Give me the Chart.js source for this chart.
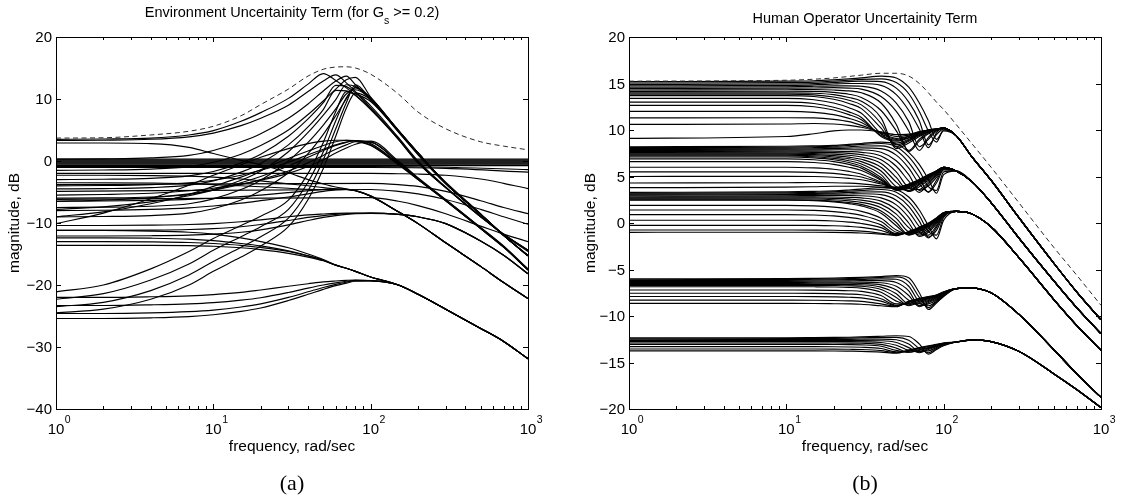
<!DOCTYPE html>
<html><head><meta charset="utf-8">
<script src="https://cdn.jsdelivr.net/npm/chart.js"></script>
<style>
html,body{margin:0;padding:0;background:#fff;}
#wrap{position:relative;width:1126px;height:504px;overflow:hidden;background:#fff;}
#wrap canvas{position:absolute;left:0;top:0;}
</style></head><body>
<div id="wrap"><canvas id="ca" width="1126" height="504"></canvas><canvas id="cb" width="1126" height="504"></canvas></div>
<script>
// ---------- shared tick data ----------
const X_TICKS = [1, 10, 100, 1000];
const X_EXP = ['0', '1', '2', '3'];
const Y_TICKS_A = [20, 10, 0, -10, -20, -30, -40];
const Y_TICKS_B = [20, 15, 10, 5, 0, -5, -10, -15, -20];

// ---------- panel (a): Environment uncertainty ----------
const FA = [1, 2, 4, 7, 10, 15, 20, 30, 40, 50, 60, 70, 80, 100, 150, 200, 300, 500, 700, 1000];
const A_ENVELOPE = [3.7, 3.75, 4.2, 4.8, 5.6, 7.3, 9.1, 11.6, 13.7, 14.8, 15.15, 15.2, 15.0, 14.0, 10.8, 7.9, 5.2, 3.1, 2.4, 1.8];
const A_PEAK_HIGH = [
 [3.5, 3.55, 3.7, 4.2, 4.9, 6.4, 7.8, 10.1, 12.4, 14.1, 13.0, 11.8, 10.6, 8.3, 3.5, -0.3, -4.3, -9.0, -11.8, -14.4],
 [3.3, 3.35, 3.5, 3.9, 4.5, 5.7, 6.9, 9.0, 11.2, 12.9, 13.9, 12.6, 11.2, 8.9, 3.8, 0.0, -4.2, -8.9, -11.9, -14.6]
];
const A_PEAK_MID = [
 [0.3, 0.35, 0.5, 0.9, 1.7, 3.1, 4.4, 6.9, 9.2, 11.3, 12.9, 13.7, 12.3, 10.0, 4.7, 1.1, -3.4, -8.5, -12.0, -15.2],
 [-1.5, -1.45, -1.3, -0.9, -0.2, 1.1, 2.5, 5.0, 7.5, 9.7, 11.6, 13.1, 13.5, 10.3, 5.0, 1.3, -3.6, -8.6, -12.0, -15.3],
 [-3.0, -2.95, -2.8, -2.4, -1.7, -0.3, 1.1, 4.0, 6.8, 9.4, 12.2, 12.0, 11.0, 8.6, 3.6, -0.2, -4.3, -9.0, -11.8, -14.4],
 [-4.5, -4.45, -4.3, -3.9, -3.2, -1.8, -0.4, 2.6, 5.5, 8.3, 11.4, 11.3, 10.6, 8.4, 3.5, -0.3, -4.3, -9.0, -11.8, -14.4],
 [-6.0, -5.95, -5.8, -5.4, -4.6, -3.1, -1.6, 1.5, 4.6, 7.4, 9.9, 12.3, 12.0, 10.0, 4.9, 1.3, -3.6, -8.6, -12.0, -15.3],
 [-7.5, -7.45, -7.3, -6.9, -6.1, -4.6, -3.1, 0.0, 3.0, 5.8, 8.4, 10.8, 11.5, 10.1, 4.9, 1.3, -3.6, -8.6, -12.0, -15.3],
 [-9.0, -8.95, -8.8, -8.4, -7.7, -6.3, -4.8, -1.9, 1.2, 4.3, 7.3, 10.0, 11.9, 10.2, 4.9, 1.3, -3.6, -8.6, -12.0, -15.3]
];
const A_PEAK_LOW = [
 [-21.1, -20.0, -17.4, -14.6, -12.5, -10.4, -8.9, -6.3, -2.0, 3.0, 8.0, 11.2, 10.8, 9.6, 4.7, 1.0, -3.7, -8.6, -12.0, -15.3],
 [-22.3, -21.4, -19.2, -16.6, -14.4, -12.2, -10.6, -7.8, -3.4, 1.5, 6.5, 10.2, 11.8, 9.8, 4.8, 1.2, -3.6, -8.6, -12.0, -15.3],
 [-23.5, -22.8, -20.9, -18.4, -16.2, -13.9, -12.2, -9.2, -4.8, 0.2, 5.2, 9.4, 12.3, 10.0, 4.9, 1.3, -3.6, -8.6, -12.0, -15.3],
 [-24.5, -23.9, -22.3, -20.0, -17.8, -15.5, -13.7, -10.6, -6.2, -1.2, 4.0, 8.5, 11.0, 9.9, 4.9, 1.3, -3.6, -8.6, -12.0, -15.3]
];
const A_HUMP_3DB = [
 [-10.1, -8.4, -6.1, -3.9, -2.3, -0.6, 0.6, 2.0, 2.8, 3.2, 3.35, 3.35, 3.2, 2.5, -0.6, -3.0, -6.4, -10.9, -13.9, -17.6],
 [-9.0, -8.2, -6.9, -5.4, -4.1, -2.6, -1.4, 0.4, 1.6, 2.5, 3.1, 3.35, 3.3, 2.6, -0.5, -3.0, -6.4, -10.9, -13.9, -17.6],
 [-7.8, -7.4, -6.6, -5.6, -4.7, -3.5, -2.5, -0.8, 0.6, 1.7, 2.5, 3.0, 3.3, 2.8, -0.4, -2.9, -6.4, -10.9, -13.9, -17.6],
 [-6.5, -6.3, -5.9, -5.3, -4.7, -3.8, -3.0, -1.6, -0.3, 0.9, 1.9, 2.6, 3.1, 3.0, -0.2, -2.8, -6.3, -10.8, -13.8, -17.5],
 [-5.5, -5.4, -5.2, -4.8, -4.4, -3.7, -3.1, -2.0, -0.9, 0.2, 1.3, 2.1, 2.7, 3.2, 0.0, -2.7, -6.2, -10.7, -13.7, -17.4],
 [-4.0, -3.95, -3.8, -3.5, -3.1, -2.3, -1.5, -0.2, 1.0, 1.9, 2.6, 3.05, 3.25, 3.1, -0.3, -2.85, -6.3, -10.8, -13.8, -17.5]
];
const A_HUMP_M4 = [
 [2.9, 2.9, 2.8, 2.2, 1.2, 0.1, -0.6, -1.9, -3.0, -3.7, -4.2, -4.5, -4.8, -5.7, -8.2, -10.1, -13.2, -17.0, -19.6, -22.2],
 [-2.3, -2.3, -2.35, -2.45, -2.6, -2.9, -3.2, -3.7, -4.0, -4.3, -4.5, -4.6, -4.8, -5.7, -8.2, -10.1, -13.2, -17.0, -19.6, -22.2],
 [-3.5, -3.5, -3.55, -3.65, -3.8, -4.0, -4.15, -4.4, -4.55, -4.6, -4.6, -4.6, -4.8, -5.7, -8.2, -10.1, -13.2, -17.0, -19.6, -22.2],
 [-6.5, -6.45, -6.35, -6.2, -6.0, -5.75, -5.5, -5.1, -4.8, -4.6, -4.5, -4.55, -4.75, -5.6, -8.2, -10.1, -13.2, -17.0, -19.6, -22.2],
 [-8.0, -7.95, -7.8, -7.55, -7.25, -6.8, -6.4, -5.8, -5.3, -4.9, -4.65, -4.6, -4.75, -5.6, -8.2, -10.1, -13.2, -17.0, -19.6, -22.2]
];
const A_HUMP_M8 = [
 [-10.4, -10.4, -10.35, -10.25, -10.1, -9.8, -9.5, -9.0, -8.7, -8.55, -8.45, -8.4, -8.4, -8.4, -8.6, -9.0, -10.1, -12.9, -15.2, -18.2],
 [-11.2, -11.2, -11.15, -11.05, -10.9, -10.6, -10.25, -9.6, -9.1, -8.8, -8.6, -8.5, -8.45, -8.4, -8.6, -9.0, -10.1, -12.9, -15.2, -18.2],
 [-12.1, -12.1, -12.05, -11.95, -11.8, -11.5, -11.1, -10.3, -9.6, -9.1, -8.8, -8.6, -8.5, -8.45, -8.6, -9.0, -10.1, -12.9, -15.2, -18.2]
];
const A_FALLING = [
 [-11.2, -11.2, -11.3, -11.5, -11.8, -12.4, -13.0, -14.0, -15.0, -15.9, -16.8, -17.3, -17.8, -18.7, -20.0, -21.5, -23.9, -27.0, -29.1, -31.9],
 [-12.4, -12.4, -12.45, -12.6, -12.85, -13.3, -13.7, -14.5, -15.3, -16.0, -16.8, -17.3, -17.8, -18.7, -20.0, -21.5, -23.9, -27.0, -29.1, -31.9],
 [-13.0, -13.0, -13.05, -13.15, -13.3, -13.6, -13.95, -14.6, -15.3, -16.0, -16.8, -17.3, -17.8, -18.7, -20.0, -21.5, -23.9, -27.0, -29.1, -31.9],
 [-13.6, -13.6, -13.6, -13.65, -13.75, -14.0, -14.3, -14.9, -15.5, -16.1, -16.8, -17.3, -17.8, -18.7, -20.0, -21.5, -23.9, -27.0, -29.1, -31.9]
];
const A_BOTTOM = [
 [-22.0, -22.0, -21.9, -21.75, -21.55, -21.2, -20.8, -20.2, -19.8, -19.5, -19.35, -19.25, -19.2, -19.3, -20.0, -21.5, -23.9, -27.0, -29.1, -31.9],
 [-23.3, -23.3, -23.2, -23.05, -22.85, -22.45, -22.05, -21.2, -20.5, -20.0, -19.65, -19.4, -19.25, -19.3, -20.0, -21.5, -23.9, -27.0, -29.1, -31.9],
 [-24.6, -24.6, -24.5, -24.3, -24.05, -23.55, -23.05, -22.0, -21.1, -20.4, -19.9, -19.55, -19.3, -19.3, -20.0, -21.5, -23.9, -27.0, -29.1, -31.9],
 [-25.4, -25.4, -25.3, -25.1, -24.8, -24.25, -23.7, -22.5, -21.5, -20.7, -20.1, -19.7, -19.4, -19.35, -20.0, -21.5, -23.9, -27.0, -29.1, -31.9]
];
const FA_FLAT = [1, 100, 150, 200, 300, 500, 700, 1000];
const A_FLAT = [
 [-2.0, -2.0, -2.05, -2.1, -2.3, -2.9, -3.6, -4.45],
 [-3.8, -3.6, -3.8, -4.1, -4.9, -6.4, -7.5, -8.5],
 [-4.9, -4.6, -4.9, -5.3, -6.2, -7.8, -9.0, -10.2],
 [-6.2, -5.9, -6.5, -7.2, -8.5, -10.5, -11.8, -13.0]
];
const FA_ZERO = [1, 100, 300, 1000];
const A_ZERO = [
 [0.3, 0.3, 0.3, 0.3],
 [0.15, 0.15, 0.15, 0.15],
 [0.0, 0.0, 0.0, 0.0],
 [-0.15, -0.15, -0.15, -0.15],
 [-0.3, -0.3, -0.3, -0.3],
 [-0.45, -0.45, -0.45, -0.45],
 [-0.6, -0.6, -0.6, -0.6],
 [-0.75, -0.75, -0.75, -0.75],
 [-0.9, -0.9, -1.0, -1.4],
 [-1.05, -1.05, -1.2, -1.8]
];

// ---------- panel (b): Human operator uncertainty ----------
const FB_HEAD = [1, 10, 15, 20, 25, 30, 40, 50, 60, 70, 80, 90, 100, 120];
const FB_TAIL = [150, 200, 300, 500, 700, 1000];
const FB_ENV = [1, 10, 20, 30, 40, 50, 60, 70, 80, 90, 100, 120, 150, 200, 300, 500, 700, 1000];
const B_ENVELOPE = [15.25, 15.35, 15.6, 15.9, 16.1, 16.1, 15.8, 15.0, 14.0, 13.0, 12.2, 10.6, 8.6, 6.0, 2.2, -2.6, -5.6, -8.85];

const B_G1_TAIL = [7.2, 4.6, 0.6, -4.3, -7.4, -10.4];
const B_G1 = [
 [15.2, 15.25, 15.3, 15.4, 15.5, 15.6, 15.8, 15.6, 14.6, 12.9, 11.0, 9.0, 9.9, 9.4],
 [15.05, 15.1, 15.15, 15.25, 15.35, 15.45, 15.5, 15.1, 13.9, 12.0, 9.9, 8.7, 10.0, 9.4],
 [14.9, 14.95, 15.0, 15.1, 15.2, 15.25, 15.2, 14.5, 13.0, 11.0, 8.4, 9.5, 10.1, 9.4],
 [14.75, 14.8, 14.85, 14.95, 15.0, 15.0, 14.8, 13.8, 12.1, 10.1, 8.1, 9.7, 10.2, 9.4],
 [14.6, 14.65, 14.7, 14.75, 14.75, 14.7, 14.2, 12.9, 10.9, 8.2, 9.0, 9.9, 10.2, 9.4],
 [14.45, 14.5, 14.52, 14.55, 14.5, 14.4, 13.6, 12.0, 9.9, 7.8, 9.2, 10.0, 10.2, 9.4],
 [14.3, 14.33, 14.35, 14.3, 14.2, 14.0, 12.9, 10.6, 7.7, 8.8, 9.6, 10.0, 10.2, 9.4],
 [14.15, 14.17, 14.15, 14.05, 13.85, 13.5, 12.1, 9.9, 7.8, 9.0, 9.7, 10.05, 10.2, 9.4],
 [14.0, 14.0, 13.95, 13.8, 13.5, 13.1, 11.3, 8.0, 8.6, 9.3, 9.8, 10.1, 10.2, 9.4],
 [13.85, 13.85, 13.78, 13.55, 13.2, 12.7, 10.7, 8.2, 8.8, 9.4, 9.85, 10.1, 10.2, 9.4],
 [13.7, 13.7, 13.6, 13.3, 12.85, 12.3, 10.2, 8.4, 8.9, 9.5, 9.9, 10.1, 10.2, 9.4],
 [13.4, 13.4, 13.25, 12.9, 12.4, 11.8, 9.6, 8.6, 9.0, 9.55, 9.9, 10.1, 10.2, 9.4],
 [13.0, 13.0, 12.85, 12.45, 11.95, 11.35, 9.3, 8.8, 9.15, 9.6, 9.95, 10.1, 10.2, 9.4],
 [12.65, 12.65, 12.5, 12.15, 11.65, 11.1, 9.4, 8.9, 9.2, 9.65, 9.95, 10.1, 10.2, 9.4],
 [12.0, 12.0, 11.9, 11.65, 11.25, 10.8, 9.6, 9.0, 9.3, 9.7, 10.0, 10.1, 10.2, 9.4],
 [11.3, 11.32, 11.3, 11.15, 10.9, 10.5, 9.7, 9.1, 9.35, 9.75, 10.0, 10.1, 10.2, 9.4],
 [10.6, 10.65, 10.7, 10.65, 10.5, 10.3, 9.75, 9.3, 9.45, 9.8, 10.0, 10.1, 10.2, 9.4],
 [9.1, 9.3, 9.6, 9.9, 10.0, 10.0, 9.8, 9.5, 9.55, 9.8, 10.0, 10.1, 10.2, 9.4]
];
const B_G2_TAIL = [4.5, 2.2, -1.6, -6.2, -9.1, -11.9];
const B_G2 = [
 [8.2, 8.25, 8.3, 8.35, 8.45, 8.55, 8.7, 8.5, 7.6, 6.3, 4.7, 3.2, 5.2, 5.6],
 [8.1, 8.15, 8.2, 8.25, 8.35, 8.45, 8.55, 8.2, 7.1, 5.6, 3.9, 3.5, 5.5, 5.6],
 [8.0, 8.05, 8.1, 8.15, 8.2, 8.28, 8.3, 7.8, 6.5, 4.9, 3.3, 4.3, 5.7, 5.6],
 [7.9, 7.95, 7.98, 8.02, 8.05, 8.08, 8.0, 7.3, 5.9, 4.2, 3.35, 4.6, 5.8, 5.6],
 [7.8, 7.84, 7.86, 7.88, 7.88, 7.86, 7.6, 6.7, 5.2, 3.5, 4.0, 4.9, 5.85, 5.6],
 [7.7, 7.72, 7.73, 7.72, 7.68, 7.6, 7.2, 6.1, 4.5, 3.3, 4.2, 5.1, 5.9, 5.6],
 [7.6, 7.61, 7.6, 7.56, 7.48, 7.35, 6.8, 5.5, 3.8, 3.6, 4.4, 5.2, 5.9, 5.6],
 [7.5, 7.5, 7.47, 7.4, 7.28, 7.1, 6.4, 4.9, 3.4, 3.9, 4.6, 5.3, 5.95, 5.6],
 [7.4, 7.4, 7.35, 7.25, 7.08, 6.85, 6.0, 4.4, 3.4, 4.1, 4.75, 5.4, 5.95, 5.6],
 [7.3, 7.3, 7.23, 7.1, 6.9, 6.6, 5.6, 3.9, 3.5, 4.2, 4.85, 5.45, 5.95, 5.6],
 [7.2, 7.2, 7.12, 6.95, 6.7, 6.35, 5.2, 3.6, 3.7, 4.3, 4.9, 5.5, 6.0, 5.6],
 [7.1, 7.1, 7.0, 6.8, 6.5, 6.1, 4.9, 3.5, 3.8, 4.4, 5.0, 5.5, 6.0, 5.6],
 [6.9, 6.9, 6.8, 6.6, 6.3, 5.9, 4.7, 3.55, 3.9, 4.45, 5.0, 5.55, 6.0, 5.6],
 [6.6, 6.6, 6.5, 6.3, 6.0, 5.65, 4.6, 3.6, 3.95, 4.5, 5.05, 5.55, 6.0, 5.6],
 [6.0, 6.0, 5.92, 5.78, 5.55, 5.25, 4.4, 3.7, 4.0, 4.55, 5.1, 5.6, 6.0, 5.6],
 [5.5, 5.5, 5.45, 5.33, 5.15, 4.95, 4.3, 3.75, 4.05, 4.6, 5.1, 5.6, 6.0, 5.6],
 [5.0, 5.02, 5.0, 4.92, 4.8, 4.65, 4.2, 3.8, 4.1, 4.6, 5.15, 5.6, 6.0, 5.6],
 [4.3, 4.33, 4.35, 4.33, 4.28, 4.2, 4.0, 3.85, 4.15, 4.65, 5.15, 5.6, 6.0, 5.6],
 [3.8, 3.85, 3.9, 3.95, 3.95, 3.95, 3.85, 3.8, 4.2, 4.7, 5.2, 5.6, 6.0, 5.6]
];
const B_G3_TAIL = [1.0, -0.4, -3.7, -8.2, -11.0, -13.7];
const B_G3 = [
 [3.3, 3.35, 3.4, 3.45, 3.55, 3.65, 3.8, 3.6, 2.8, 1.4, -0.3, -1.7, 0.3, 1.25],
 [3.2, 3.25, 3.3, 3.35, 3.42, 3.5, 3.6, 3.3, 2.3, 0.8, -0.9, -1.3, 0.6, 1.25],
 [3.1, 3.15, 3.18, 3.22, 3.28, 3.33, 3.35, 2.9, 1.8, 0.2, -1.5, -0.8, 0.75, 1.25],
 [3.0, 3.05, 3.07, 3.1, 3.12, 3.14, 3.05, 2.45, 1.2, -0.4, -1.6, -0.5, 0.85, 1.25],
 [2.9, 2.93, 2.95, 2.96, 2.96, 2.93, 2.7, 1.95, 0.6, -1.0, -1.3, -0.3, 0.9, 1.25],
 [2.8, 2.82, 2.82, 2.8, 2.76, 2.7, 2.35, 1.45, 0.0, -1.45, -1.0, -0.1, 0.95, 1.25],
 [2.7, 2.71, 2.7, 2.65, 2.57, 2.46, 2.0, 0.95, -0.5, -1.3, -0.8, 0.05, 1.0, 1.25],
 [2.6, 2.6, 2.58, 2.5, 2.38, 2.22, 1.65, 0.5, -0.95, -1.1, -0.6, 0.15, 1.0, 1.25],
 [2.5, 2.5, 2.46, 2.36, 2.2, 2.0, 1.3, 0.05, -1.25, -0.95, -0.45, 0.25, 1.05, 1.25],
 [2.45, 2.45, 2.4, 2.27, 2.08, 1.84, 1.05, -0.3, -1.3, -0.85, -0.35, 0.3, 1.05, 1.25],
 [1.9, 1.9, 1.84, 1.7, 1.5, 1.25, 0.5, -0.75, -1.2, -0.75, -0.3, 0.35, 1.05, 1.25],
 [1.4, 1.4, 1.35, 1.23, 1.05, 0.82, 0.15, -1.0, -1.15, -0.7, -0.25, 0.4, 1.1, 1.25],
 [0.9, 0.9, 0.86, 0.76, 0.6, 0.4, -0.2, -1.15, -1.1, -0.65, -0.2, 0.45, 1.1, 1.25],
 [0.3, 0.3, 0.28, 0.21, 0.1, -0.05, -0.5, -1.2, -1.05, -0.6, -0.15, 0.5, 1.1, 1.25],
 [-0.25, -0.25, -0.26, -0.3, -0.37, -0.47, -0.8, -1.25, -1.0, -0.55, -0.1, 0.5, 1.1, 1.25],
 [-0.75, -0.75, -0.76, -0.78, -0.82, -0.88, -1.1, -1.3, -0.95, -0.5, -0.05, 0.55, 1.1, 1.25],
 [-1.0, -0.99, -0.99, -1.0, -1.03, -1.07, -1.2, -1.35, -0.9, -0.45, 0.0, 0.55, 1.1, 1.25]
];
const B_G4_TAIL = [-7.0, -7.5, -9.8, -13.6, -16.2, -18.75];
const B_G4 = [
 [-6.0, -5.98, -5.95, -5.92, -5.88, -5.84, -5.75, -5.65, -5.9, -7.5, -9.3, -8.6, -7.9, -7.05],
 [-6.1, -6.08, -6.05, -6.02, -5.98, -5.94, -5.85, -5.8, -6.3, -8.0, -9.1, -8.5, -7.85, -7.05],
 [-6.2, -6.18, -6.15, -6.12, -6.09, -6.06, -6.0, -6.05, -6.8, -8.5, -8.9, -8.4, -7.8, -7.05],
 [-6.3, -6.28, -6.26, -6.24, -6.22, -6.2, -6.2, -6.4, -7.3, -8.9, -8.7, -8.3, -7.75, -7.05],
 [-6.4, -6.39, -6.37, -6.36, -6.35, -6.35, -6.42, -6.8, -7.8, -9.0, -8.55, -8.2, -7.7, -7.05],
 [-6.5, -6.49, -6.48, -6.48, -6.48, -6.5, -6.65, -7.2, -8.3, -8.85, -8.45, -8.1, -7.65, -7.05],
 [-6.6, -6.6, -6.6, -6.6, -6.62, -6.65, -6.9, -7.6, -8.7, -8.65, -8.35, -8.0, -7.6, -7.05],
 [-6.7, -6.7, -6.7, -6.72, -6.75, -6.8, -7.15, -8.0, -8.9, -8.5, -8.25, -7.95, -7.55, -7.05],
 [-6.85, -6.85, -6.86, -6.88, -6.92, -7.0, -7.45, -8.4, -8.8, -8.4, -8.15, -7.9, -7.5, -7.05],
 [-7.2, -7.2, -7.21, -7.24, -7.28, -7.35, -7.8, -8.7, -8.65, -8.3, -8.1, -7.85, -7.5, -7.05],
 [-7.55, -7.55, -7.56, -7.59, -7.64, -7.72, -8.15, -8.85, -8.55, -8.25, -8.05, -7.8, -7.45, -7.05],
 [-7.9, -7.9, -7.91, -7.94, -7.98, -8.05, -8.4, -8.9, -8.5, -8.2, -8.0, -7.8, -7.45, -7.05],
 [-8.3, -8.3, -8.31, -8.33, -8.37, -8.43, -8.7, -8.95, -8.45, -8.15, -7.95, -7.75, -7.45, -7.05],
 [-8.65, -8.65, -8.66, -8.68, -8.7, -8.74, -8.9, -9.0, -8.4, -8.1, -7.9, -7.75, -7.4, -7.05]
];
const B_G5_TAIL = [-12.6, -12.75, -13.8, -16.2, -17.9, -19.85];
const B_G5 = [
 [-12.35, -12.34, -12.32, -12.3, -12.28, -12.25, -12.18, -12.12, -12.2, -13.0, -14.1, -13.6, -13.2, -12.8],
 [-12.45, -12.44, -12.42, -12.4, -12.38, -12.36, -12.3, -12.3, -12.6, -13.5, -13.95, -13.5, -13.15, -12.8],
 [-12.55, -12.54, -12.53, -12.52, -12.51, -12.5, -12.48, -12.55, -13.0, -13.8, -13.75, -13.4, -13.1, -12.8],
 [-12.65, -12.65, -12.64, -12.64, -12.64, -12.64, -12.66, -12.85, -13.4, -13.95, -13.6, -13.3, -13.05, -12.8],
 [-12.75, -12.75, -12.75, -12.75, -12.76, -12.78, -12.85, -13.15, -13.7, -13.85, -13.5, -13.25, -13.0, -12.8],
 [-12.9, -12.9, -12.9, -12.9, -12.91, -12.93, -13.05, -13.45, -13.9, -13.7, -13.45, -13.2, -13.0, -12.8],
 [-13.05, -13.05, -13.05, -13.06, -13.07, -13.1, -13.25, -13.7, -13.9, -13.6, -13.4, -13.15, -12.95, -12.8],
 [-13.3, -13.3, -13.3, -13.31, -13.33, -13.36, -13.5, -13.85, -13.8, -13.5, -13.3, -13.1, -12.95, -12.8],
 [-13.55, -13.55, -13.55, -13.56, -13.58, -13.6, -13.72, -13.95, -13.7, -13.45, -13.25, -13.1, -12.95, -12.8],
 [-13.75, -13.75, -13.75, -13.76, -13.78, -13.8, -13.88, -14.0, -13.65, -13.4, -13.2, -13.05, -12.9, -12.8]
];

// ---------- helpers ----------
function pts(fs, vs) { return vs.map((v, i) => ({ x: fs[i], y: v })); }
function solid(fs, vs) {
  return { data: pts(fs, vs), borderColor: '#000', borderWidth: 1.15, pointRadius: 0, fill: false,
           cubicInterpolationMode: 'monotone' };
}
function dashed(fs, vs) {
  return { data: pts(fs, vs), borderColor: '#2a2a2a', borderWidth: 1, borderDash: [5, 3.5], pointRadius: 0,
           fill: false, cubicInterpolationMode: 'monotone' };
}
const SANS = '"Liberation Sans", Arial, Helvetica, sans-serif';
const SERIF = '"Liberation Serif", "Times New Roman", serif';
function fmt(v) { return v < 0 ? '\u2212' + Math.abs(v) : String(v); }

function framePlugin(p) {
  return {
    id: 'frame',
    afterDraw(chart) {
      const ctx = chart.ctx, a = chart.chartArea, xs = chart.scales.x, ys = chart.scales.y;
      ctx.save();
      ctx.strokeStyle = '#000'; ctx.lineWidth = 1;
      ctx.beginPath();
      for (let d = 0; d < 3; d++) {
        for (let k = 1; k < 10; k++) {
          const px = Math.round(xs.getPixelForValue(X_TICKS[d] * k)) + 0.5;
          const len = k === 1 ? 5 : 3;
          ctx.moveTo(px, a.bottom); ctx.lineTo(px, a.bottom - len);
          ctx.moveTo(px, a.top); ctx.lineTo(px, a.top + len);
        }
      }
      p.yTicks.forEach(v => {
        const py = Math.round(ys.getPixelForValue(v)) + 0.5;
        ctx.moveTo(a.left, py); ctx.lineTo(a.left + 5, py);
        ctx.moveTo(a.right, py); ctx.lineTo(a.right - 5, py);
      });
      ctx.stroke();
      ctx.strokeRect(Math.round(a.left) + 0.5, Math.round(a.top) + 0.5,
                     Math.round(a.right - a.left), Math.round(a.bottom - a.top));
      ctx.fillStyle = '#000';
      ctx.font = '15px ' + SANS; ctx.textAlign = 'right'; ctx.textBaseline = 'middle';
      p.yTicks.forEach(v => ctx.fillText(fmt(v), a.left - 4, ys.getPixelForValue(v) + 1));
      ctx.textBaseline = 'alphabetic';
      X_TICKS.forEach((v, i) => {
        const px = xs.getPixelForValue(v);
        ctx.font = '15px ' + SANS; ctx.textAlign = 'center';
        const w = ctx.measureText('10').width;
        ctx.fillText('10', px, 433.5);
        ctx.font = '10.5px ' + SANS; ctx.textAlign = 'left';
        ctx.fillText(X_EXP[i], px + w / 2 + 0.5, 423);
      });
      const cx = (a.left + a.right) / 2;
      ctx.font = '15.5px ' + SANS; ctx.textAlign = 'center';
      ctx.fillText('frequency, rad/sec', cx, 451);
      ctx.save();
      ctx.translate(p.ylabelX, (a.top + a.bottom) / 2);
      ctx.rotate(-Math.PI / 2);
      ctx.textBaseline = 'middle'; ctx.textAlign = 'center';
      ctx.fillText('magnitude, dB', 0, 0);
      ctx.restore();
      ctx.textBaseline = 'alphabetic';
      const big = '14.5px ' + SANS, small = '10.5px ' + SANS;
      let total = 0;
      p.title.forEach(t => { ctx.font = t.sub ? small : big; total += ctx.measureText(t.text).width; });
      let x0 = cx - total / 2;
      ctx.textAlign = 'left';
      p.title.forEach(t => {
        ctx.font = t.sub ? small : big;
        ctx.fillText(t.text, x0, t.sub ? p.titleY + 7 : p.titleY);
        x0 += ctx.measureText(t.text).width;
      });
      ctx.font = '22px ' + SERIF; ctx.textAlign = 'center';
      ctx.fillText(p.caption, cx, 490);
      ctx.restore();
    }
  };
}

function makeChart(id, datasets, pad, yMin, yMax, plug) {
  return new Chart(document.getElementById(id), {
    type: 'line',
    data: { datasets },
    options: {
      responsive: false, animation: false, events: [],
      layout: { padding: pad },
      plugins: { legend: { display: false }, tooltip: { enabled: false }, title: { display: false } },
      scales: {
        x: { type: 'logarithmic', min: 1, max: 1000, display: false },
        y: { type: 'linear', min: yMin, max: yMax, display: false }
      }
    },
    plugins: [plug]
  });
}

// ---------- build panel (a) ----------
const dsA = [dashed(FA, A_ENVELOPE)];
[A_PEAK_HIGH, A_PEAK_MID, A_PEAK_LOW, A_HUMP_3DB, A_HUMP_M4, A_HUMP_M8, A_FALLING, A_BOTTOM]
  .forEach(group => group.forEach(v => dsA.push(solid(FA, v))));
A_FLAT.forEach(v => dsA.push(solid(FA_FLAT, v)));
A_ZERO.forEach(v => dsA.push(solid(FA_ZERO, v)));

makeChart('ca', dsA, { left: 56, right: 598, top: 37, bottom: 95 }, -40, 20, framePlugin({
  yTicks: Y_TICKS_A, ylabelX: 14.5, titleY: 17, caption: '(a)',
  title: [{ text: 'Environment Uncertainity Term (for G' }, { text: 's', sub: true }, { text: ' >= 0.2)' }]
}));

// ---------- build panel (b) ----------
const FB_ALL = FB_HEAD.concat(FB_TAIL);
const dsB = [dashed(FB_ENV, B_ENVELOPE)];
[[B_G1, B_G1_TAIL], [B_G2, B_G2_TAIL], [B_G3, B_G3_TAIL], [B_G4, B_G4_TAIL], [B_G5, B_G5_TAIL]]
  .forEach(([heads, tail]) => heads.forEach(h => dsB.push(solid(FB_ALL, h.concat(tail)))));

makeChart('cb', dsB, { left: 629, right: 25, top: 37, bottom: 95 }, -20, 20, framePlugin({
  yTicks: Y_TICKS_B, ylabelX: 591, titleY: 22.5, caption: '(b)',
  title: [{ text: 'Human Operator Uncertainity Term' }]
}));
</script>
</body></html>
